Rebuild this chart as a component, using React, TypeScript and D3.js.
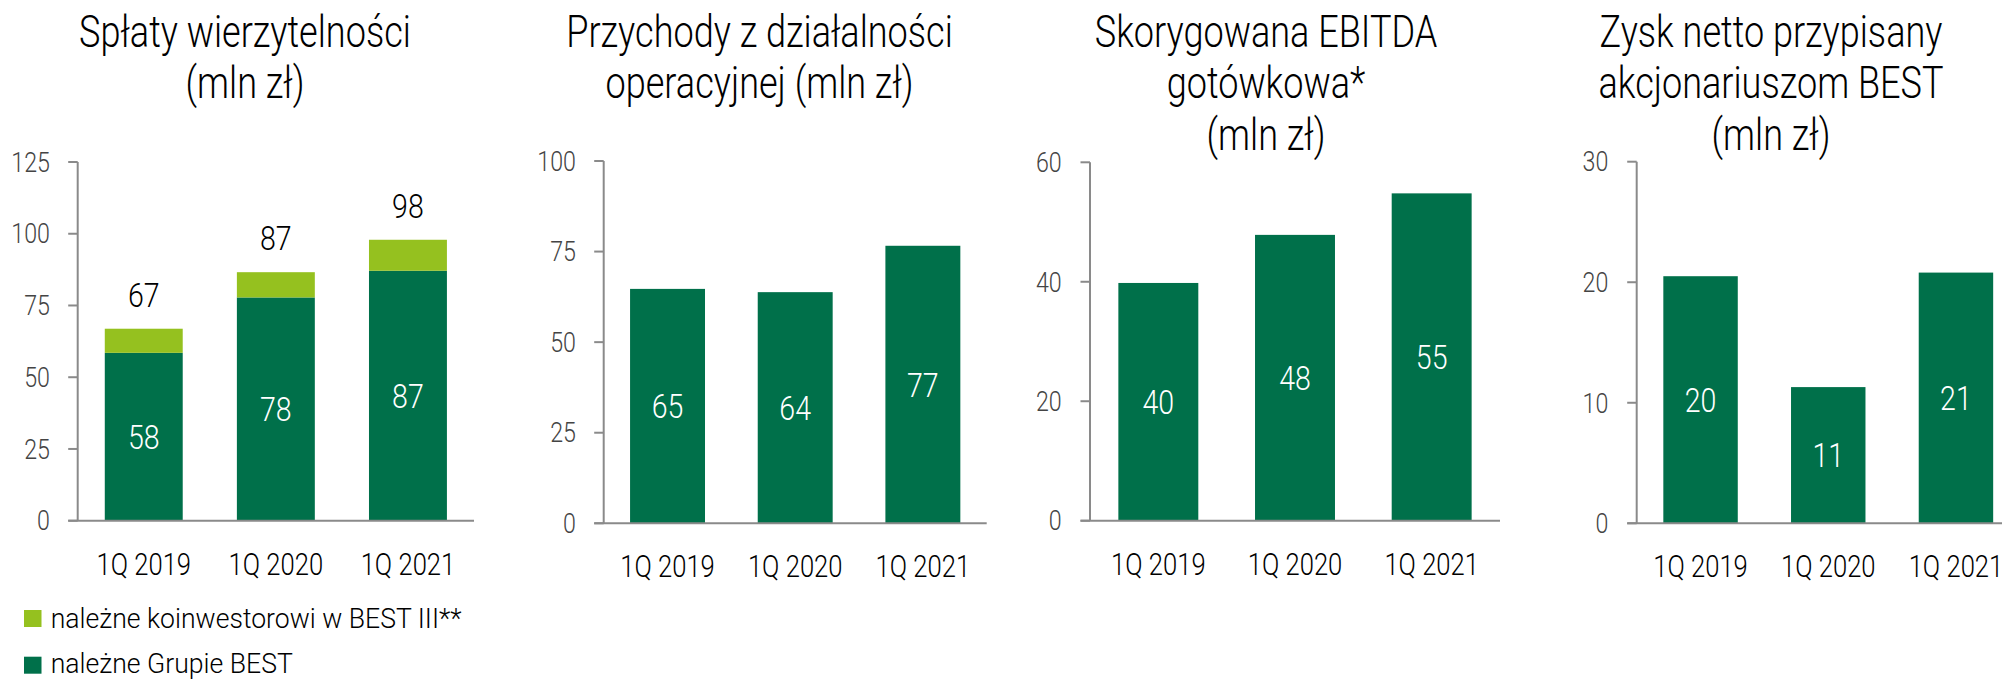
import React from "react";
import * as d3 from "d3";

// ---------- DATA ----------
const categories = ["1Q 2019", "1Q 2020", "1Q 2021"];

// Panel 1: Spłaty wierzytelności (stacked)
const repayGroup = [58.5, 77.8, 87.1];
const repayCoinvestor = [8.4, 8.8, 10.8];
const repayGroupLabels = ["58", "78", "87"];
const repayTotalLabels = ["67", "87", "98"];
const repayTicks = [0, 25, 50, 75, 100, 125];

// Panel 2: Przychody z działalności operacyjnej
const revenue = [64.7, 63.8, 76.6];
const revenueLabels = ["65", "64", "77"];
const revenueTicks = [0, 25, 50, 75, 100];

// Panel 3: Skorygowana EBITDA gotówkowa
const ebitda = [39.8, 47.85, 54.8];
const ebitdaLabels = ["40", "48", "55"];
const ebitdaTicks = [0, 20, 40, 60];

// Panel 4: Zysk netto
const netProfit = [20.5, 11.3, 20.8];
const netProfitLabels = ["20", "11", "21"];
const netProfitTicks = [0, 10, 20, 30];

const titles = [
  ["Spłaty wierzytelności", "(mln zł)"],
  ["Przychody z działalności", "operacyjnej (mln zł)"],
  ["Skorygowana EBITDA", "gotówkowa*", "(mln zł)"],
  ["Zysk netto przypisany", "akcjonariuszom BEST", "(mln zł)"],
];

const legendLabels = ["należne koinwestorowi w BEST III**", "należne Grupie BEST"];

// ---------- STYLE / LAYOUT ----------
const W = 2002;
const H = 679;
const DARK = "#00704A";
const LIGHT = "#95C11F";
const AXIS = "#8a8a8a";
const FONT = "Roboto, 'Liberation Sans', Arial, sans-serif";
const WEIGHT = 300;

type Layout = {
  x0: number; x1: number; yTop: number; yBase: number; max: number;
  pad: number; titleX: number; yLabelRight: number;
};

const layouts: Layout[] = [
  { x0: 77.7, x1: 474, yTop: 162, yBase: 520.7, max: 125, pad: 0.41, titleX: 245, yLabelRight: 50 },
  { x0: 603.7, x1: 986.7, yTop: 161, yBase: 523.3, max: 100, pad: 0.413, titleX: 759.5, yLabelRight: 576 },
  { x0: 1090, x1: 1500, yTop: 162.3, yBase: 520.7, max: 60, pad: 0.415, titleX: 1266, yLabelRight: 1061.7 },
  { x0: 1636.7, x1: 2019.8, yTop: 161.7, yBase: 523.3, max: 30, pad: 0.417, titleX: 1771, yLabelRight: 1608.3 },
];

const panelSeries = [
  { stacks: [repayGroup, repayCoinvestor], inner: repayGroupLabels, total: repayTotalLabels, ticks: repayTicks },
  { stacks: [revenue], inner: revenueLabels, total: null, ticks: revenueTicks },
  { stacks: [ebitda], inner: ebitdaLabels, total: null, ticks: ebitdaTicks },
  { stacks: [netProfit], inner: netProfitLabels, total: null, ticks: netProfitTicks },
];

const stackColors = [DARK, LIGHT];

// condensed text: horizontally squeezed to mimic the narrow face of the original
function T({ x, y, sx, anchor = "middle", size, fill, dy, children }: any) {
  return (
    <g transform={`translate(${x},${y}) scale(${sx},1)`}>
      <text x={0} y={0} dy={dy} textAnchor={anchor} fontSize={size} fill={fill} fontWeight={WEIGHT}>
        {children}
      </text>
    </g>
  );
}

function Panel({ idx }: { idx: number }) {
  const L = layouts[idx];
  const S = panelSeries[idx];
  const x = d3.scaleBand<string>().domain(categories).range([L.x0, L.x1]).paddingInner(L.pad).paddingOuter(L.pad / 2);
  const y = d3.scaleLinear().domain([0, L.max]).range([L.yBase, L.yTop]);

  const rows = categories.map((c, i) => {
    const r: any = { cat: c };
    S.stacks.forEach((s, k) => (r["s" + k] = s[i]));
    return r;
  });
  const keys = S.stacks.map((_, k) => "s" + k);
  const stacked = d3.stack<any>().keys(keys)(rows);
  const cx = (i: number) => (x(categories[i]) as number) + x.bandwidth() / 2;

  const title = titles[idx];
  return (
    <g>
      {title.map((t, i) => (
        <T key={i} x={L.titleX} y={46.7 + i * 51.5} sx={0.82} size={44} fill="#000">
          {t}
        </T>
      ))}
      {stacked.map((layer, k) =>
        layer.map((d, i) => (
          <rect
            key={k + "-" + i}
            x={x(categories[i])}
            width={x.bandwidth()}
            y={y(d[1])}
            height={y(d[0]) - y(d[1])}
            fill={stackColors[k]}
          />
        ))
      )}
      {stacked[0].map((d, i) => (
        <T key={"in" + i} x={cx(i)} y={(y(d[0]) + y(d[1])) / 2} dy="0.36em" sx={0.84} size={34} fill="#fff">
          {S.inner[i]}
        </T>
      ))}
      {S.total &&
        stacked[stacked.length - 1].map((d, i) => (
          <T key={"tot" + i} x={cx(i)} y={y(d[1]) - 22} sx={0.84} size={34} fill="#000">
            {S.total![i]}
          </T>
        ))}
      <line x1={L.x0} x2={L.x0} y1={y(L.max)} y2={L.yBase} stroke={AXIS} strokeWidth={2} />
      {S.ticks.map((t) => (
        <g key={t}>
          <line x1={L.x0 - 9.5} x2={L.x0} y1={y(t)} y2={y(t)} stroke={AXIS} strokeWidth={2} />
          <T x={L.yLabelRight} y={y(t)} dy="0.36em" anchor="end" sx={0.86} size={27} fill="#444">
            {t}
          </T>
        </g>
      ))}
      <line x1={L.x0 - 9.5} x2={L.x1} y1={L.yBase} y2={L.yBase} stroke={AXIS} strokeWidth={2} />
      {categories.map((c, i) => (
        <T key={c} x={cx(i)} y={L.yBase + 54} sx={0.8} size={32} fill="#000">
          {c}
        </T>
      ))}
    </g>
  );
}

export default function App() {
  return (
    <div style={{ position: "absolute", left: 0, top: 0, width: W, height: H, overflow: "hidden", background: "#fff" }}>
      <svg width={W} height={H} style={{ display: "block", fontFamily: FONT }}>
        <rect width={W} height={H} fill="#fff" />
        {layouts.map((_, i) => (
          <Panel key={i} idx={i} />
        ))}
        {legendLabels.map((t, i) => (
          <g key={t}>
            <rect x={24} y={610 + i * 46.7} width={17.5} height={17} fill={i === 0 ? LIGHT : DARK} />
            <T x={50.7} y={627.5 + i * 45.5} anchor="start" sx={0.95} size={28} fill="#000">
              {t}
            </T>
          </g>
        ))}
      </svg>
    </div>
  );
}
